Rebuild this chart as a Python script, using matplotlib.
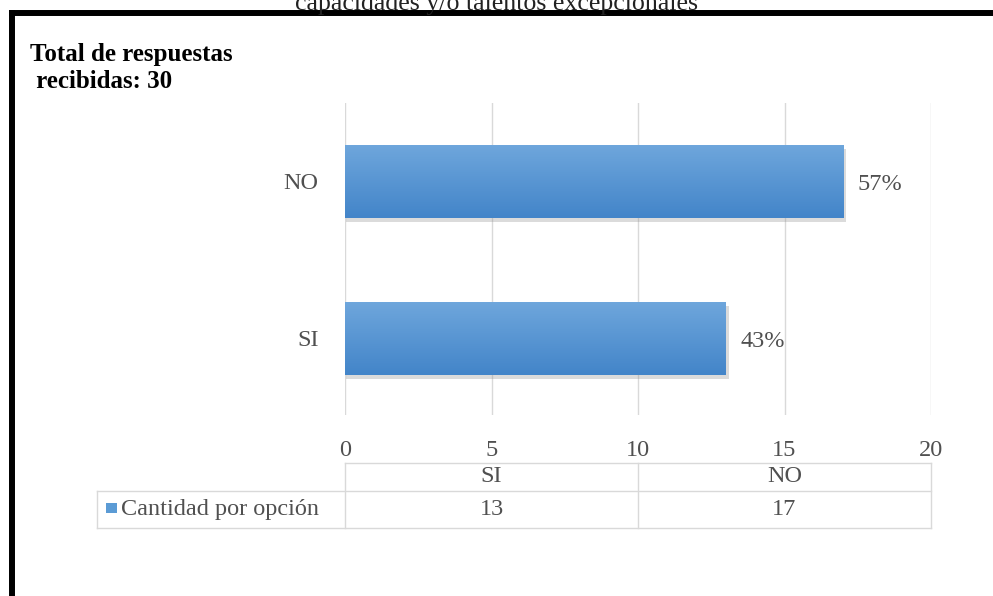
#!/usr/bin/env python3
import matplotlib
matplotlib.use('Agg')
import matplotlib.pyplot as plt
import numpy as np
from matplotlib.lines import Line2D
from matplotlib.patches import Rectangle
from matplotlib.colors import LinearSegmentedColormap

categories = ['SI', 'NO']
counts = [13, 17]
total = 30
percent_labels = ['43%', '57%']
xticks = [0, 5, 10, 15, 20]
series_name = 'Cantidad por opción'
title_cut = 'capacidades y/o talentos excepcionales'
side_note = 'Total de respuestas\n recibidas: 30'

W, H = 993, 596
plt.rcParams['font.family'] = ['Liberation Serif', 'DejaVu Serif']
txt_color = '#505050'
fs = 17.5

fig = plt.figure(figsize=(W / 100, H / 100), dpi=100)


def fx(px):
    return px / W


def fy(py):
    return 1 - py / H


# thick black frame (top and left only, the rest is cropped away)
fig.add_artist(Line2D([fx(9), fx(W)], [fy(13), fy(13)], color='black', lw=4.3,
                      solid_capstyle='butt'))
fig.add_artist(Line2D([fx(12), fx(12)], [fy(10), fy(H)], color='black', lw=4.3,
                      solid_capstyle='butt'))

# title cut off at the top of the screenshot
fig.text(0.5, fy(10), title_cut, ha='center', va='baseline', fontsize=18.6,
         color='#222222')

fig.text(fx(30), fy(43), side_note, ha='left', va='top', fontsize=18,
         fontweight='bold', linespacing=1.2)

ax = fig.add_axes([fx(345), fy(415), fx(931) - fx(345), fy(103) - fy(415)])
for s in ax.spines.values():
    s.set_visible(False)
ax.set_xticks(xticks)
ax.xaxis.grid(True, color='#d9d9d9', lw=1)
ax.set_axisbelow(True)
ax.tick_params(length=0, labelsize=fs, colors=txt_color)
ax.tick_params(axis='x', pad=18)
ax.tick_params(axis='y', pad=19)
ypos = np.arange(len(categories))
ax.set_yticks(ypos)
ax.set_yticklabels(categories)

cmap = LinearSegmentedColormap.from_list('bar', ['#4385c9', '#6ea6dc'])
grad = np.linspace(0, 1, 64).reshape(-1, 1)
bh = 0.465
for y, c, lab in zip(ypos, counts, percent_labels):
    # soft shadow
    ax.add_patch(Rectangle((0.05, y - bh / 2 - 0.025), c + 0.04, bh,
                           color='#8a8a8a', alpha=0.3, lw=0, zorder=2))
    bar = ax.barh(y, c, height=bh, color='#5b9bd5', zorder=3)[0]
    im = ax.imshow(grad, cmap=cmap, aspect='auto', origin='lower',
                   extent=[0, c, y - bh / 2, y + bh / 2], zorder=4)
    im.set_clip_path(bar)
    ax.text(c + 0.5, y - 0.02, lab, ha='left', va='center', fontsize=fs,
            color=txt_color, zorder=5)
ax.set_xlim(0, 20)
ax.set_ylim(-0.49, 1.5)

# data table below the axis
gc = '#d9d9d9'
x_l, x_a, x_m, x_r = 97, 345, 638, 931
y_t, y_m, y_b = 463, 491, 528
for x0, x1, yy in [(x_a, x_r, y_t), (x_l, x_r, y_m), (x_l, x_r, y_b)]:
    fig.add_artist(Line2D([fx(x0), fx(x1)], [fy(yy), fy(yy)], color=gc, lw=1))
for xx, y0 in [(x_l, y_m), (x_a, y_t), (x_m, y_t), (x_r, y_t)]:
    fig.add_artist(Line2D([fx(xx), fx(xx)], [fy(y0), fy(y_b)], color=gc, lw=1))

cols = [(x_a + x_m) / 2, (x_m + x_r) / 2]
for cx, cat, c in zip(cols, categories, counts):
    fig.text(fx(cx), fy((y_t + y_m) / 2), cat, ha='center', va='center',
             fontsize=fs, color=txt_color)
    fig.text(fx(cx), fy((y_m + y_b) / 2), str(c), ha='center', va='center',
             fontsize=fs, color=txt_color)
fig.add_artist(Rectangle((fx(106), fy(513)), fx(11), 10 / H, color='#5b9bd5',
                         lw=0))
fig.text(fx(121), fy((y_m + y_b) / 2), series_name, ha='left', va='center',
         fontsize=fs, color=txt_color)

fig.savefig('out.png', dpi=100)
